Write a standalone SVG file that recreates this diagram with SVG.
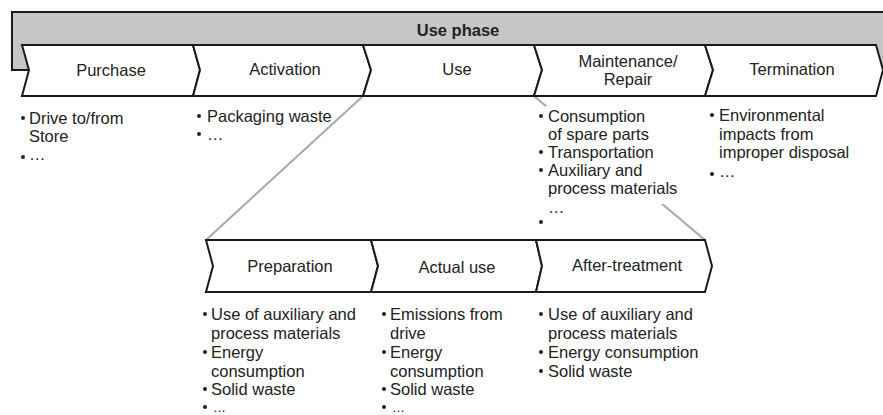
<svg xmlns="http://www.w3.org/2000/svg" width="883" height="415" viewBox="0 0 883 415">
<style>
.chev{fill:#fff;stroke:#1a1a1a;stroke-width:2;stroke-linejoin:miter}
.lbl{font-family:"Liberation Sans",Arial,sans-serif;font-size:16.5px;fill:#222;text-anchor:middle}
.bt{font-family:"Liberation Sans",Arial,sans-serif;font-size:16.5px;fill:#222}
.el{font-family:"Liberation Sans",Arial,sans-serif;font-size:13px;fill:#222}
.dot{fill:#222}
.conn{stroke:#a8a8a8;stroke-width:2;fill:none}
</style>
<rect width="883" height="415" fill="#fff"/>
<g id="banner">
<rect x="12" y="12" width="890" height="58" fill="#c6c6c6" stroke="#1a1a1a" stroke-width="2"/>
<text x="458" y="36" class="lbl" style="font-weight:bold">Use phase</text>
</g>
<g id="connectors">
<line class="conn" x1="363" y1="96" x2="206" y2="240"/>
<line class="conn" x1="534" y1="96" x2="705" y2="240"/>
</g>
<g id="purchase">
<path class="chev" d="M22,45 L193,45 L200,70 L193,96 L22,96 L29,70 Z"/>
<text x="111" y="76" class="lbl">Purchase</text>
</g>
<g id="activation">
<path class="chev" d="M193,45 L363,45 L371,70 L363,96 L193,96 L200,70 Z"/>
<text x="285" y="75" class="lbl">Activation</text>
</g>
<g id="use">
<path class="chev" d="M363,45 L534,45 L542,70 L534,96 L363,96 L371,70 Z"/>
<text x="457" y="75" class="lbl">Use</text>
</g>
<g id="maintenance">
<path class="chev" d="M534,45 L705,45 L713,70 L705,96 L534,96 L542,70 Z"/>
<text x="628" y="67" class="lbl">Maintenance/</text>
<text x="628" y="85" class="lbl">Repair</text>
</g>
<g id="termination">
<path class="chev" d="M705,45 L876,45 L883,70 L876,96 L705,96 L713,70 Z"/>
<text x="792" y="75" class="lbl">Termination</text>
</g>
<g id="purchase-items">
<circle class="dot" cx="23" cy="118" r="2"/><text x="29" y="124" class="bt">Drive to/from</text>
<text x="29" y="142" class="bt">Store</text>
<circle class="dot" cx="23" cy="157" r="2"/><text x="29" y="160" class="bt">…</text>
</g>
<g id="activation-items">
<circle class="dot" cx="199" cy="116" r="2"/><text x="207" y="122" class="bt">Packaging waste</text>
<circle class="dot" cx="199" cy="134" r="2"/><text x="207" y="140" class="bt">…</text>
</g>
<g id="maintenance-items">
<rect x="546" y="106" width="136" height="98" fill="#fff"/>
<circle class="dot" cx="541" cy="116" r="2"/><text x="548" y="122" class="bt">Consumption</text>
<text x="548" y="140" class="bt">of spare parts</text>
<circle class="dot" cx="541" cy="152" r="2"/><text x="548" y="158" class="bt">Transportation</text>
<circle class="dot" cx="541" cy="170" r="2"/><text x="548" y="176" class="bt">Auxiliary and</text>
<text x="548" y="194" class="bt">process materials</text>
<text x="548" y="213" class="bt">…</text>
<circle class="dot" cx="541" cy="222" r="2"/>
</g>
<g id="termination-items">
<circle class="dot" cx="712" cy="115" r="2"/><text x="719" y="121" class="bt">Environmental</text>
<text x="719" y="140" class="bt">impacts from</text>
<text x="719" y="158" class="bt">improper disposal</text>
<circle class="dot" cx="712" cy="174" r="2"/><text x="719" y="177" class="bt">…</text>
</g>
<g id="preparation">
<path class="chev" d="M206,240 L371,240 L378,266 L371,292 L206,292 L213,266 Z"/>
<text x="290" y="272" class="lbl">Preparation</text>
</g>
<g id="actual-use">
<path class="chev" d="M371,240 L536,240 L542,266 L536,292 L371,292 L378,266 Z"/>
<text x="457" y="273" class="lbl">Actual use</text>
</g>
<g id="after-treatment">
<path class="chev" d="M536,240 L705,240 L712,266 L705,292 L536,292 L542,266 Z"/>
<text x="627" y="271" class="lbl">After-treatment</text>
</g>
<g id="preparation-items">
<circle class="dot" cx="205" cy="314" r="2"/><text x="211" y="320" class="bt">Use of auxiliary and</text>
<text x="211" y="339" class="bt">process materials</text>
<circle class="dot" cx="205" cy="352" r="2"/><text x="211" y="358" class="bt">Energy</text>
<text x="211" y="377" class="bt">consumption</text>
<circle class="dot" cx="205" cy="389" r="2"/><text x="211" y="395" class="bt">Solid waste</text>
<circle class="dot" cx="205" cy="407" r="2"/><text x="213" y="412" class="el">…</text>
</g>
<g id="actual-use-items">
<circle class="dot" cx="384" cy="314" r="2"/><text x="390" y="320" class="bt">Emissions from</text>
<text x="390" y="339" class="bt">drive</text>
<circle class="dot" cx="384" cy="352" r="2"/><text x="390" y="358" class="bt">Energy</text>
<text x="390" y="377" class="bt">consumption</text>
<circle class="dot" cx="384" cy="389" r="2"/><text x="390" y="395" class="bt">Solid waste</text>
<circle class="dot" cx="384" cy="407" r="2"/><text x="392" y="412" class="el">…</text>
</g>
<g id="after-treatment-items">
<circle class="dot" cx="541" cy="314" r="2"/><text x="548" y="320" class="bt">Use of auxiliary and</text>
<text x="548" y="339" class="bt">process materials</text>
<circle class="dot" cx="541" cy="352" r="2"/><text x="548" y="358" class="bt">Energy consumption</text>
<circle class="dot" cx="541" cy="371" r="2"/><text x="548" y="377" class="bt">Solid waste</text>
</g>
</svg>
